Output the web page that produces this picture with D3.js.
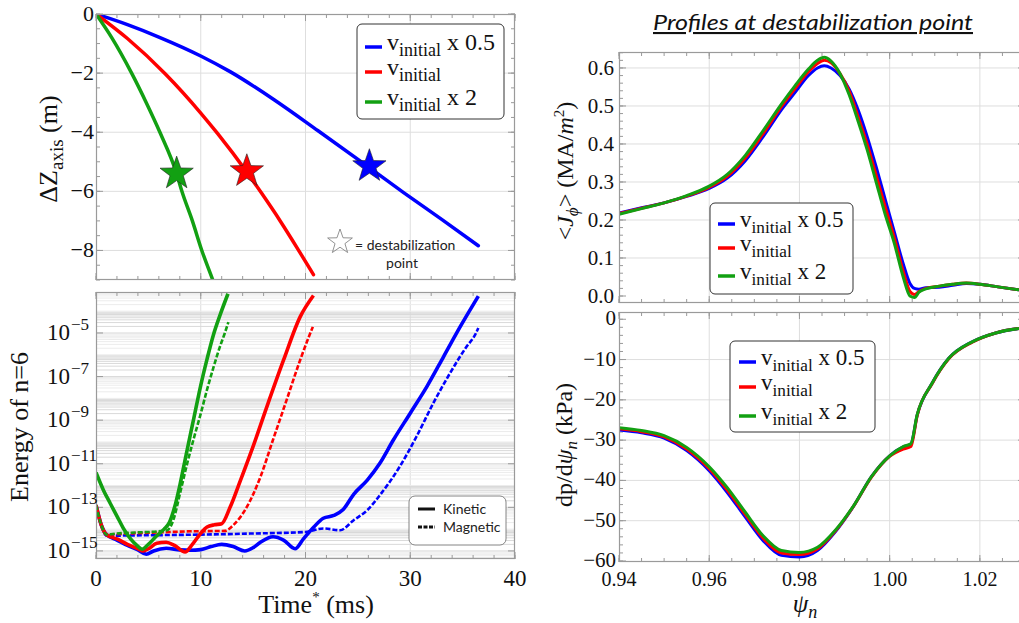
<!DOCTYPE html>
<html lang="en">
<head>
<meta charset="UTF-8">
<title>Vertical displacement and n=6 energy</title>
<script src="https://d3js.org/d3.v7.min.js"></script>
<style>
  body { margin: 0; background: #fff; }
  svg { display: block; }
  .sans { font-family: Lato, "Open Sans", sans-serif; fill: #222; }
</style>
</head>
<body>
<svg width="1019" height="623"></svg>
<script>
// ---- data ----
const seriesNames = ["x0.5", "x1", "x2"];
const seriesColors = ["#0000ff", "#ff0000", "#12a012"];
const legendSuffix = [" x 0.5", "", " x 2"];

// Delta Z_axis (m) vs time (ms)
const dzBlue  = [[0,0],[3,-0.36],[6,-0.78],[10,-1.42],[12.8,-1.95],[17,-2.9],[21.2,-3.95],[26.1,-5.2],[29.4,-6.05],[33,-6.95],[36.5,-7.84]];
const dzRed   = [[0,0],[3,-0.83],[6.6,-2.02],[10,-3.35],[11.6,-4.04],[14.4,-5.35],[15.8,-6.06],[17.6,-7.01],[19.3,-7.97],[20.76,-8.82]];
const dzGreen = [[0,0],[1.5,-0.8],[3.4,-2.0],[4.8,-3.0],[6.1,-4.0],[7.7,-5.4],[8.2,-6.0],[9.2,-7.0],[10.1,-8.0],[11.15,-9.0],[11.3,-9.15]];
const starPoints = [[26.1,-5.15],[14.4,-5.32],[7.7,-5.4]];

// energy of n=6, log10 values
const kinBlue  = [[0,-12.9],[0.5,-13.8],[1,-14.25],[2,-14.5],[3,-14.75],[4,-14.95],[4.8,-15.15],[5.5,-15.0],[6.7,-14.88],[8.0,-14.95],[9.0,-14.97],[10.0,-14.94],[11.0,-14.8],[12.0,-14.7],[13.1,-14.8],[14.2,-15.0],[15.0,-14.85],[15.7,-14.6],[16.9,-14.35],[17.9,-14.5],[19.0,-14.9],[19.8,-14.45],[20.8,-13.9],[21.7,-13.5],[22.7,-13.37],[23.6,-13.1],[24.6,-12.4],[25.9,-11.75],[27.1,-10.98],[28.4,-9.9],[30.0,-8.68],[31.6,-7.45],[33.2,-6.07],[34.8,-4.69],[36.5,-3.31]];
const magBlue  = [[0,-12.9],[0.5,-13.8],[1,-14.3],[5,-14.28],[10,-14.25],[15,-14.2],[20,-14.13],[21.7,-13.97],[23.3,-14.05],[24.6,-13.59],[25.9,-13.13],[27.1,-12.44],[29.0,-11.13],[30.6,-9.75],[32.2,-8.22],[33.8,-6.84],[35.4,-5.61],[36.2,-5.08],[36.5,-4.77]];
const kinRed   = [[0,-12.9],[0.5,-13.8],[1,-14.25],[2,-14.45],[3,-14.7],[4,-14.9],[4.5,-15.0],[5.0,-14.9],[5.8,-14.65],[6.7,-14.6],[7.5,-14.75],[8.5,-15.05],[9.2,-14.7],[9.9,-14.25],[10.6,-13.9],[11.3,-13.8],[12.0,-13.75],[12.8,-13.0],[13.8,-11.75],[15.0,-10.2],[16.3,-8.4],[17.9,-6.25],[19.5,-4.25],[20.76,-3.28]];
const magRed   = [[0,-12.9],[0.5,-13.8],[1,-14.25],[3,-14.2],[6,-14.15],[9,-14.1],[12.3,-14.08],[13.1,-13.82],[14.4,-12.98],[15.7,-11.6],[16.9,-9.9],[18.2,-8.07],[19.5,-6.23],[20.3,-5.2],[20.7,-4.72]];
const kinGreen = [[0,-11.4],[0.7,-12.2],[1.34,-12.8],[2.0,-13.4],[2.6,-13.95],[3.3,-14.45],[3.9,-14.75],[4.4,-14.92],[5.0,-14.7],[5.8,-14.3],[6.5,-14.0],[7.0,-13.7],[7.5,-13.0],[8.0,-12.0],[8.6,-10.6],[9.3,-9.0],[10.0,-7.4],[10.6,-6.2],[11.2,-5.1],[11.9,-4.1],[12.6,-3.2]];
const magGreen = [[0,-12.9],[0.5,-13.8],[1.0,-14.25],[2,-14.2],[4,-14.15],[6,-14.1],[6.8,-14.05],[7.1,-13.9],[7.5,-13.4],[8.0,-12.4],[8.7,-11.0],[9.3,-9.9],[10.0,-8.7],[10.6,-7.6],[11.2,-6.6],[11.85,-5.6],[12.3,-5.0],[12.64,-4.5]];

// <J_phi> (MA/m^2) vs psi_n
const psiJ   = [0.94,0.945,0.95,0.955,0.96,0.964,0.968,0.972,0.976,0.979,0.982,0.984,0.9855,0.987,0.989,0.991,0.993,0.995,0.997,0.999,1.001,1.003,1.0045,1.0055,1.0065,1.008,1.011,1.014,1.017,1.02,1.024,1.03];
const jBlue  = [0.218,0.232,0.245,0.262,0.283,0.31,0.356,0.42,0.49,0.535,0.58,0.6,0.606,0.6,0.58,0.545,0.49,0.42,0.34,0.255,0.17,0.085,0.033,0.02,0.018,0.022,0.023,0.028,0.033,0.031,0.024,0.014];
const jRed   = [0.217,0.231,0.245,0.263,0.286,0.315,0.363,0.428,0.498,0.545,0.59,0.612,0.62,0.614,0.585,0.54,0.472,0.4,0.318,0.235,0.155,0.065,0.012,0.004,0.012,0.02,0.026,0.031,0.034,0.031,0.024,0.014];
const jGreen = [0.215,0.23,0.245,0.264,0.289,0.32,0.37,0.436,0.505,0.553,0.597,0.62,0.628,0.618,0.585,0.53,0.46,0.385,0.3,0.215,0.14,0.05,0.0,-0.004,0.01,0.019,0.026,0.031,0.034,0.031,0.024,0.014];

// dp/dpsi_n (kPa) vs psi_n
const psiP   = [0.94,0.945,0.95,0.955,0.96,0.964,0.968,0.972,0.976,0.98,0.984,0.988,0.992,0.996,1.0,1.003,1.0047,1.0061,1.0094,1.0131,1.0183,1.0235,1.03];
const pBlue  = [-27.5,-28.2,-29.5,-32.6,-37.6,-43.0,-49.1,-55.0,-58.6,-59.0,-57.4,-52.7,-46.4,-39.0,-33.9,-31.7,-31.0,-23.8,-15.9,-9.7,-5.6,-3.4,-2.1];
const pRed   = [-27.2,-27.9,-29.2,-32.2,-37.1,-42.4,-48.5,-54.4,-58.0,-58.4,-57.0,-52.5,-46.4,-39.1,-34.0,-32.2,-31.6,-23.9,-16.0,-9.8,-5.7,-3.4,-2.1];
const pGreen = [-26.9,-27.6,-28.9,-31.8,-36.6,-41.8,-47.9,-53.8,-57.4,-57.9,-56.6,-52.3,-46.3,-39.0,-33.9,-31.6,-30.9,-23.7,-15.9,-9.7,-5.6,-3.4,-2.1];

const timeTicks = [0,10,20,30,40];
const dzTicks = [0,-2,-4,-6,-8];
const eTicks = [-15,-13,-11,-9,-7,-5];
const psiTicks = [0.94,0.96,0.98,1.00,1.02];
const jTicks = [0,0.1,0.2,0.3,0.4,0.5,0.6];
const pTicks = [0,-10,-20,-30,-40,-50,-60];

// ---- scales ----
const svg = d3.select("svg");
const SERIF = '"Liberation Serif", "Times New Roman", Times, serif';
const xT = d3.scaleLinear().domain([0, 40]).range([96, 515]);
const yZ = d3.scaleLinear().domain([-9, 0]).range([280, 14]);
const yE = d3.scaleLinear().domain([-15.37, -3.12]).range([559, 292]);  // log10 space
const xP = d3.scaleLinear().domain([0.94, 1.03]).range([619, 1025]);
const yJ = d3.scaleLinear().domain([-0.0184, 0.642]).range([303, 52]);
const yD = d3.scaleLinear().domain([-60.25, 1.8]).range([562, 312]);

const minus = s => String(s).replace("-", "\u2212");
const gridCol = "#dedede", frameCol = "#9a9a9a";

function serifText(sel) {
  return sel.append("text").style("font-family", SERIF).style("fill", "#111");
}

let clipId = 0;
function panel(x, y) {
  const [x0, x1] = x.range(), [y1, y0] = y.range();
  const id = "clip" + (clipId++);
  svg.append("clipPath").attr("id", id).append("rect")
    .attr("x", x0).attr("y", y0).attr("width", x1 - x0).attr("height", y1 - y0);
  return { x0, x1, y0, y1, clip: `url(#${id})` };
}

function frame(p, x, y, xMajor, xMinor, yMajor, yMinor, xGrid, yGrid) {
  const g = svg.append("g");
  g.selectAll(".vg").data(xGrid).enter().append("line")
    .attr("x1", d => x(d)).attr("x2", d => x(d)).attr("y1", p.y0).attr("y2", p.y1)
    .attr("stroke", gridCol).attr("stroke-width", 1);
  g.selectAll(".hg").data(yGrid).enter().append("line")
    .attr("x1", p.x0).attr("x2", p.x1)
    .attr("y1", d => y(d.v !== undefined ? d.v : d)).attr("y2", d => y(d.v !== undefined ? d.v : d))
    .attr("stroke", d => d.c || gridCol).attr("stroke-width", 1);
  const tk = svg.append("g").attr("stroke", frameCol).attr("stroke-width", 1);
  [[xMajor, 7], [xMinor, 4]].forEach(([arr, len]) => {
    arr.forEach(v => {
      tk.append("line").attr("x1", x(v)).attr("x2", x(v)).attr("y1", p.y1).attr("y2", p.y1 - len);
      tk.append("line").attr("x1", x(v)).attr("x2", x(v)).attr("y1", p.y0).attr("y2", p.y0 + len);
    });
  });
  [[yMajor, 7], [yMinor, 4]].forEach(([arr, len]) => {
    arr.forEach(v => {
      tk.append("line").attr("y1", y(v)).attr("y2", y(v)).attr("x1", p.x0).attr("x2", p.x0 + len);
      tk.append("line").attr("y1", y(v)).attr("y2", y(v)).attr("x1", p.x1).attr("x2", p.x1 - len);
    });
  });
  return g;
}

function border(p) {
  svg.append("rect").attr("x", p.x0 + 0.5).attr("y", p.y0 + 0.5)
    .attr("width", p.x1 - p.x0 - 1).attr("height", p.y1 - p.y0 - 1)
    .attr("fill", "none").attr("stroke", frameCol).attr("stroke-width", 1.2);
}

const range = (a, b, s) => d3.range(a, b + s / 2, s);

// ---- top-left: Delta Z ----
const pZ = panel(xT, yZ);
frame(pZ, xT, yZ, timeTicks, range(0, 40, 2), dzTicks, range(-9, 0, 0.5), [10, 20, 30], dzTicks.slice(1));
const lineZ = d3.line().x(d => xT(d[0])).y(d => yZ(d[1])).curve(d3.curveMonotoneX);
const gz = svg.append("g").attr("clip-path", pZ.clip);
[dzBlue, dzRed, dzGreen].forEach((s, i) => {
  gz.append("path").attr("d", lineZ(s)).attr("fill", "none")
    .attr("stroke", seriesColors[i]).attr("stroke-width", 3.5).attr("stroke-linecap", "round");
});
function starPath(R, r) {
  const pts = d3.range(10).map(k => {
    const a = -Math.PI / 2 + k * Math.PI / 5, rr = k % 2 ? r : R;
    return [rr * Math.cos(a), rr * Math.sin(a)];
  });
  return "M" + pts.map(p => p.join(",")).join("L") + "Z";
}
gz.selectAll(".star").data(starPoints).enter().append("path")
  .attr("d", starPath(17.5, 7))
  .attr("transform", d => `translate(${xT(d[0])},${yZ(d[1])})`)
  .attr("fill", (d, i) => seriesColors[i]).attr("stroke", "#222").attr("stroke-width", 0.6);
border(pZ);
dzTicks.forEach(d => {
  serifText(svg).attr("x", 94).attr("y", yZ(d) + 7).attr("text-anchor", "end")
    .attr("font-size", 22).text(minus(d));
});

// destabilization key
svg.append("path").attr("d", starPath(13, 5.2)).attr("transform", "translate(340,242)")
  .attr("fill", "none").attr("stroke", "#777").attr("stroke-width", 0.8);
svg.append("text").attr("class", "sans").attr("x", 355).attr("y", 250).attr("font-size", 14).text("= destabilization");
svg.append("text").attr("class", "sans").attr("x", 402).attr("y", 268).attr("font-size", 14)
  .attr("text-anchor", "middle").text("point");

// legend helper
function vLegend(x, y, w, h, rows, lx, size) {
  svg.append("rect").attr("x", x).attr("y", y).attr("width", w).attr("height", h)
    .attr("rx", 5).attr("fill", "#fff").attr("stroke", "#333").attr("stroke-width", 1);
  rows.forEach((ry, i) => {
    svg.append("line").attr("x1", lx).attr("x2", lx + 17).attr("y1", ry).attr("y2", ry)
      .attr("stroke", seriesColors[i]).attr("stroke-width", 3.5);
    const t = serifText(svg).attr("x", lx + 22).attr("y", ry + 3).attr("font-size", size);
    t.append("tspan").text("v");
    t.append("tspan").attr("font-size", size * 0.75).attr("dy", 6).text("initial");
    t.append("tspan").attr("dy", -6).text(legendSuffix[i]);
  });
}
vLegend(357, 24, 147, 95, [47, 72, 102], 365, 24);

// ---- bottom-left: energy ----
const pE = panel(xT, yE);
const eMinor = [];
d3.range(-16, -3).forEach(k => d3.range(1, 10).forEach(m => {
  const v = k + Math.log10(m);
  if (v > -15.37 && v < -3.12) eMinor.push({ v, c: (k % 2 !== 0) ? "#d9d9d9" : "#ececec" });
}));
frame(pE, xT, yE, timeTicks, range(0, 40, 2), eTicks, [], [10, 20, 30], eMinor);
const lineE = d3.line().x(d => xT(d[0])).y(d => yE(d[1])).curve(d3.curveMonotoneX);
const ge = svg.append("g").attr("clip-path", pE.clip);
[[magBlue, kinBlue], [magRed, kinRed], [magGreen, kinGreen]].forEach(([m, k], i) => {
  ge.append("path").attr("d", lineE(m)).attr("fill", "none").attr("stroke", seriesColors[i])
    .attr("stroke-width", 2.6).attr("stroke-dasharray", "5,2");
  ge.append("path").attr("d", lineE(k)).attr("fill", "none").attr("stroke", seriesColors[i])
    .attr("stroke-width", 3.6).attr("stroke-linejoin", "round");
});
border(pE);
eTicks.forEach(d => {
  const t = serifText(svg).attr("y", yE(d) + 7).attr("font-size", 23);
  t.append("tspan").attr("x", 70).attr("text-anchor", "end").text("10");
  t.append("tspan").attr("x", 71).attr("dy", -10).attr("text-anchor", "start").attr("font-size", 17).text(minus(d));
});
timeTicks.forEach(d => {
  serifText(svg).attr("x", xT(d)).attr("y", 586).attr("text-anchor", "middle").attr("font-size", 23).text(d);
});

// kinetic / magnetic key
svg.append("rect").attr("x", 409).attr("y", 496).attr("width", 97).attr("height", 49).attr("rx", 6)
  .attr("fill", "#fff").attr("stroke", "#666").attr("stroke-width", 0.8);
[["Kinetic", null, 509], ["Magnetic", "4,1.5", 527]].forEach(([lab, dash, yy]) => {
  svg.append("line").attr("x1", 418).attr("x2", 435).attr("y1", yy).attr("y2", yy)
    .attr("stroke", "#111").attr("stroke-width", 3).attr("stroke-dasharray", dash);
  svg.append("text").attr("class", "sans").attr("x", 443).attr("y", yy + 5).attr("font-size", 14).text(lab);
});

// ---- top-right: J ----
const pJ = panel(xP, yJ);
frame(pJ, xP, yJ, psiTicks, range(0.94, 1.03, 0.005), jTicks, range(0, 0.64, 0.02), [0.96, 0.98, 1.0, 1.02], jTicks.slice(1));
const gj = svg.append("g").attr("clip-path", pJ.clip);
[jBlue, jRed, jGreen].forEach((s, i) => {
  const line = d3.line().x((d, k) => xP(psiJ[k])).y(d => yJ(d)).curve(d3.curveMonotoneX);
  gj.append("path").attr("d", line(s)).attr("fill", "none").attr("stroke", seriesColors[i]).attr("stroke-width", 3);
});
border(pJ);
jTicks.forEach(d => {
  serifText(svg).attr("x", 614).attr("y", yJ(d) + 7).attr("text-anchor", "end").attr("font-size", 21)
    .text(d3.format(".1f")(d));
});
vLegend(710, 203, 143, 91, [224, 248, 276], 718, 23);

// ---- bottom-right: dp/dpsi ----
const pD = panel(xP, yD);
frame(pD, xP, yD, psiTicks, range(0.94, 1.03, 0.005), pTicks, range(-60, 0, 2), [0.96, 0.98, 1.0, 1.02], pTicks.slice(1, 6));
const gd = svg.append("g").attr("clip-path", pD.clip);
[pBlue, pRed, pGreen].forEach((s, i) => {
  const line = d3.line().x((d, k) => xP(psiP[k])).y(d => yD(d)).curve(d3.curveMonotoneX);
  gd.append("path").attr("d", line(s)).attr("fill", "none").attr("stroke", seriesColors[i]).attr("stroke-width", 3);
});
border(pD);
pTicks.forEach(d => {
  serifText(svg).attr("x", 616).attr("y", yD(d) + 6).attr("text-anchor", "end").attr("font-size", 21).text(minus(d));
});
psiTicks.forEach(d => {
  serifText(svg).attr("x", xP(d)).attr("y", 586).attr("text-anchor", "middle").attr("font-size", 20)
    .text(d3.format(".2f")(d));
});
vLegend(730, 341, 145, 91, [362, 387, 416], 739, 23);

// ---- titles ----
const t1 = serifText(svg).attr("font-size", 26)
  .attr("transform", "translate(57,149) rotate(-90)").attr("text-anchor", "middle");
t1.append("tspan").text("\u0394Z");
t1.append("tspan").attr("font-size", 19).attr("dy", 6).text("axis");
t1.append("tspan").attr("dy", -6).text(" (m)");

serifText(svg).attr("font-size", 26)
  .attr("transform", "translate(28,427) rotate(-90)").attr("text-anchor", "middle").text("Energy of  n=6");

const t3 = serifText(svg).attr("font-size", 26)
  .attr("x", 316).attr("y", 613).attr("text-anchor", "middle");
t3.append("tspan").text("Time");
t3.append("tspan").attr("font-size", 15).attr("dy", -11).text("*");
t3.append("tspan").attr("dy", 11).text(" (ms)");

const t4 = serifText(svg).attr("font-size", 24)
  .attr("transform", "translate(573,171) rotate(-90)").attr("text-anchor", "middle");
t4.append("tspan").text("<");
t4.append("tspan").attr("font-style", "italic").text("J");
t4.append("tspan").attr("font-style", "italic").attr("font-size", 17).attr("dy", 5).text("\u03d5");
t4.append("tspan").attr("dy", -5).text("> (MA/");
t4.append("tspan").attr("font-style", "italic").text("m");
t4.append("tspan").attr("font-size", 15).attr("dy", -9).text("2");
t4.append("tspan").attr("dy", 9).text(")");

const t5 = serifText(svg).attr("font-size", 24)
  .attr("transform", "translate(572,445) rotate(-90)").attr("text-anchor", "middle");
t5.append("tspan").text("dp/d");
t5.append("tspan").attr("font-style", "italic").text("\u03c8");
t5.append("tspan").attr("font-style", "italic").attr("font-size", 17).attr("dy", 5).text("n");
t5.append("tspan").attr("dy", -5).text("  (kPa)");

const t6 = serifText(svg).attr("font-size", 25)
  .attr("x", 805).attr("y", 612).attr("text-anchor", "middle").attr("font-style", "italic");
t6.append("tspan").text("\u03c8");
t6.append("tspan").attr("font-size", 18).attr("dy", 6).text("n");

svg.append("text").attr("class", "sans").attr("x", 813).attr("y", 30).attr("text-anchor", "middle")
  .attr("font-size", 21).attr("font-style", "italic").attr("text-decoration", "underline")
  .attr("textLength", 320).attr("lengthAdjust", "spacingAndGlyphs").style("fill", "#111")
  .text("Profiles at destabilization point");
</script>
</body>
</html>
